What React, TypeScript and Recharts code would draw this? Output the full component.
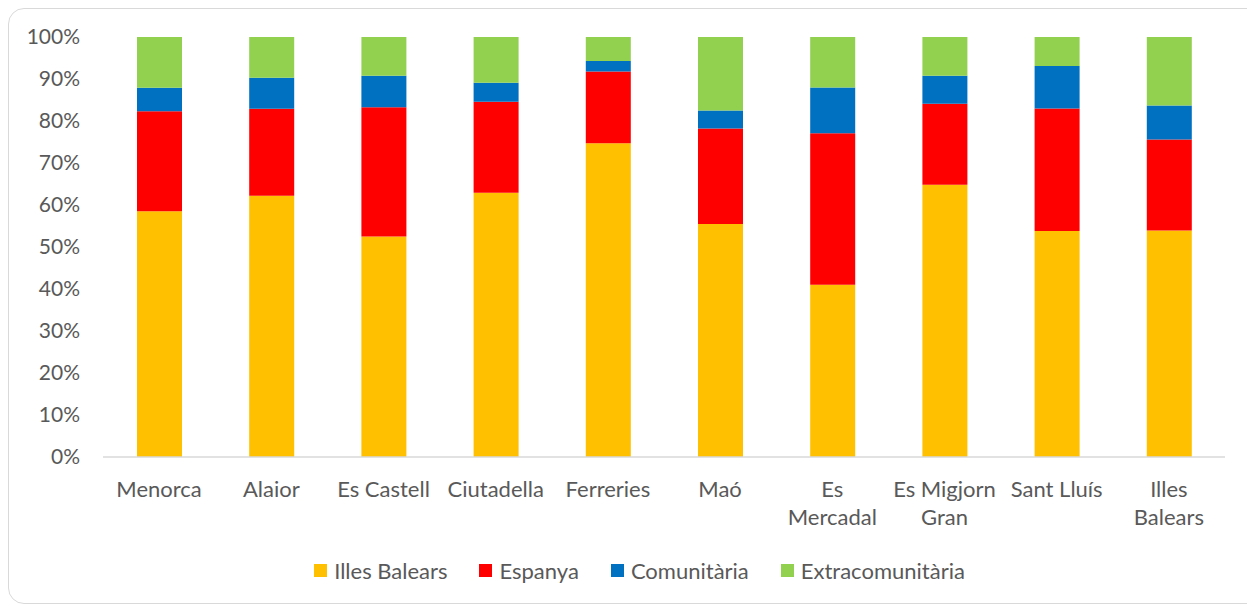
import { BarChart, Bar, XAxis, YAxis } from 'recharts'

const municipis = [
  'Menorca', 'Alaior', 'Es Castell', 'Ciutadella', 'Ferreries',
  'Maó', 'Es Mercadal', 'Es Migjorn Gran', 'Sant Lluís', 'Illes Balears',
]
// labels split the way the original wraps them
const tickLines: Record<string, string[]> = {
  'Es Mercadal': ['Es', 'Mercadal'],
  'Es Migjorn Gran': ['Es Migjorn', 'Gran'],
  'Illes Balears': ['Illes', 'Balears'],
}

const illesBalears = [58.5, 62.2, 52.5, 62.9, 74.7, 55.5, 41.0, 64.8, 53.8, 53.9]
const espanya = [23.8, 20.7, 30.8, 21.7, 17.1, 22.7, 36.1, 19.3, 29.2, 21.7]
const comunitaria = [5.6, 7.4, 7.5, 4.5, 2.5, 4.3, 10.9, 6.7, 10.1, 8.1]
const extracomunitaria = [12.1, 9.7, 9.2, 10.9, 5.7, 17.5, 12.0, 9.2, 6.9, 16.3]

const yTicks = [0, 10, 20, 30, 40, 50, 60, 70, 80, 90, 100]

const SERIES = [
  { key: 'ib', name: 'Illes Balears', color: '#FFC000' },
  { key: 'es', name: 'Espanya', color: '#FF0000' },
  { key: 'com', name: 'Comunitària', color: '#0070C0' },
  { key: 'ext', name: 'Extracomunitària', color: '#92D050' },
]

const data = municipis.map((m, i) => ({
  name: m,
  ib: illesBalears[i],
  es: espanya[i],
  com: comunitaria[i],
  ext: extracomunitaria[i],
}))

const TEXT = '#595959'
const FONT = 'Lato, sans-serif'

function CatTick({ x, y, payload }: any) {
  const lines = tickLines[payload.value] ?? [payload.value]
  return (
    <text x={x} y={y} textAnchor="middle" fill={TEXT} fontSize={22} fontFamily={FONT}>
      {lines.map((l, i) => (
        <tspan key={i} x={x} dy={i === 0 ? 38 : 28}>{l}</tspan>
      ))}
    </text>
  )
}

export default function App() {
  return (
    <div style={{
      position: 'relative', width: 1253, height: 594, border: '1px solid #d9d9d9',
      borderRadius: 16, background: '#fff', fontFamily: FONT,
    }}>
      <BarChart width={1253} height={594} data={data}
        margin={{ top: 28, right: 37, left: 0, bottom: 66 }}>
        <YAxis domain={[0, 100]} ticks={yTicks} width={94}
          axisLine={false} tickLine={false} tickSize={0} tickMargin={23}
          tickFormatter={(v: number) => `${v}%`}
          tick={{ fill: TEXT, fontSize: 21, fontFamily: FONT }} />
        <XAxis dataKey="name" height={80} interval={0}
          axisLine={{ stroke: '#d9d9d9', strokeWidth: 1.5 }}
          tickLine={false} tickSize={0} tick={<CatTick />} />
        {SERIES.map(s => (
          <Bar key={s.key} dataKey={s.key} name={s.name} stackId="a"
            fill={s.color} barSize={45} isAnimationActive={false} />
        ))}
      </BarChart>
      <div style={{
        position: 'absolute', top: 548, left: 4, width: 1253,
        display: 'flex', justifyContent: 'center', gap: 32,
      }}>
        {SERIES.map(s => (
          <div key={s.key} style={{ display: 'flex', alignItems: 'center', gap: 7 }}>
            <span style={{ width: 13, height: 13, background: s.color, display: 'inline-block' }} />
            <span style={{ color: TEXT, fontSize: 22 }}>{s.name}</span>
          </div>
        ))}
      </div>
    </div>
  )
}
